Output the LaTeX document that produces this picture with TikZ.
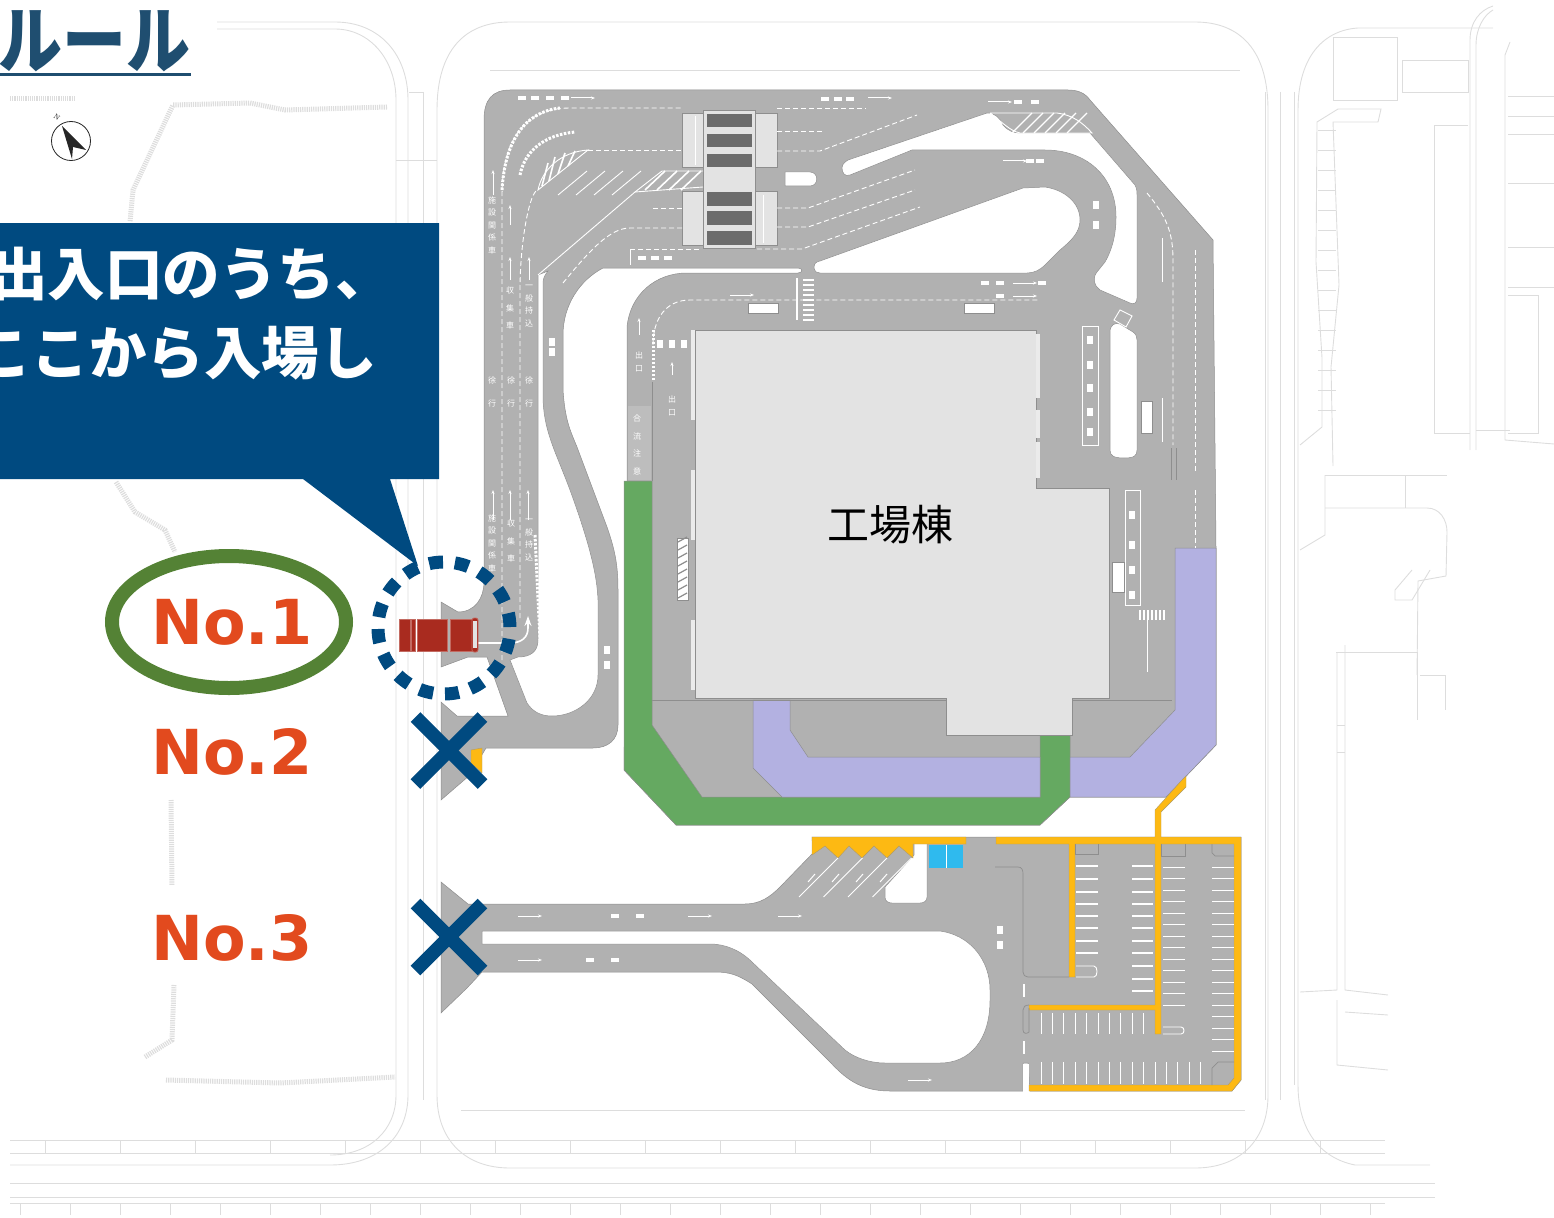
\documentclass[tikz,border=0pt]{standalone}
\usepackage{fontspec}
\usetikzlibrary{arrows.meta}
\newfontfamily\jpfont{Noto Sans CJK JP}
\newfontfamily\nofont{DejaVu Sans}
\definecolor{roadgray}{HTML}{B1B1B1}
\definecolor{edgegray}{HTML}{8E8E8E}
\definecolor{ghostgray}{HTML}{DDDDDD}
\definecolor{floorgray}{HTML}{E3E3E3}
\definecolor{bargray}{HTML}{6C6C6C}
\definecolor{laneGreen}{HTML}{65A961}
\definecolor{lanePurple}{HTML}{B3B1E1}
\definecolor{curbYellow}{HTML}{FDB913}
\definecolor{bayBlue}{HTML}{2FBAEE}
\definecolor{calloutBlue}{HTML}{004A80}
\definecolor{titleBlue}{HTML}{1F4E70}
\definecolor{labelOrange}{HTML}{E24A1E}
\definecolor{ovalGreen}{HTML}{548235}
\definecolor{truckRed}{HTML}{A92B1F}
\tikzset{
    ghost/.style={ghostgray, line width=0.9pt},
    ghostband/.style={ghostgray, line width=5pt, dash pattern=on 1.2pt off 1pt},
    road/.style={fill=roadgray, draw=edgegray, line width=0.5pt},
    island/.style={fill=white, draw=edgegray, line width=0.5pt},
    lane/.style={white, line width=0.9pt, dash pattern=on 5pt off 3pt},
    paint/.style={white, line width=0.9pt},
    curb/.style={fill=curbYellow, draw=edgegray!70!curbYellow, line width=0.4pt},
    notext/.style={labelOrange, font=\nofont\bfseries\fontsize{62}{62}\selectfont, inner sep=0pt},
    roadtext/.style={white, font=\jpfont\fontsize{8}{12.5}\selectfont, align=center, inner sep=0pt},
    crossmark/.style={calloutBlue, line width=13.5pt},
    calltext/.style={anchor=west, white, font=\jpfont\bfseries\fontsize{57.5}{57.5}\selectfont, inner sep=0pt},
}
\begin{document}
\begin{tikzpicture}[x=1pt, y=-1pt]
    \useasboundingbox (0,0) rectangle (1554,1217);

    % the faint outlines of the central site
    \draw[ghost] (437,110) .. controls (437,50) and (465,22) .. (510,22) -- (1195,22)
        .. controls (1240,22) and (1268,50) .. (1268,110) -- (1268,1095)
        .. controls (1268,1140) and (1240,1168) .. (1195,1168) -- (510,1168)
        .. controls (465,1168) and (437,1140) .. (437,1095) -- cycle;
    \draw[ghost] (490,70) -- (1240,70);
    \draw[ghost] (461,1110) -- (1245,1110);
    % the faint outlines of the left block
    \draw[ghost] (217,22) -- (335,22) .. controls (380,22) and (408,55) .. (408,100) -- (408,1095)
        .. controls (408,1135) and (380,1165) .. (330,1165) -- (10,1165);
    \draw[ghost] (217,29) -- (335,29) .. controls (370,29) and (396,60) .. (396,100) -- (396,1095)
        .. controls (396,1130) and (370,1155) .. (330,1155);
    \draw[ghost] (423,92) -- (423,1100);
    \draw[ghost] (396,160) -- (437,160);
    \draw[ghost] (409,92) -- (423,92);
    % the faint outlines of the right block
    \draw[ghost] (1280,92) -- (1280,1100);
    \draw[ghost] (1265,92) -- (1265,1100);
    \draw[ghost] (1294,92) -- (1294,1085);
    \draw[ghost] (1298,110) .. controls (1298,55) and (1325,30) .. (1358,28) -- (1493,28);
    \draw[ghost] (1298,110) -- (1298,1085) .. controls (1298,1130) and (1320,1158) .. (1355,1165) -- (1430,1165);
    \draw[ghost] (1470,450) -- (1470,40) .. controls (1470,22) and (1480,10) .. (1493,6);
    \draw[ghost] (1476,450) -- (1476,45) .. controls (1476,28) and (1484,15) .. (1493,10);
    \draw[ghost] (1333,37) rectangle (1397,100);
    \draw[ghost] (1402,60) rectangle (1468,92);
    \draw[ghost] (1468,125) -- (1434,125) -- (1434,433) -- (1470,433);
    \draw[ghost] (1476,430) -- (1510,430);
    \draw[ghost] (1510,42) -- (1505,55) -- (1505,440) -- (1554,444);
    \draw[ghost] (1508,96) -- (1554,96);
    \draw[ghost] (1508,116) -- (1554,116);
    \draw[ghost] (1508,134) -- (1554,134);
    \draw[ghost] (1508,183) -- (1554,183);
    \draw[ghost] (1508,247) -- (1554,247);
    \draw[ghost] (1508,287) -- (1554,287);
    \draw[ghost] (1508,295) -- (1538,295) -- (1538,433) -- (1508,433);
    \draw[ghost] (1338,109) -- (1381,109) -- (1378,122) -- (1333,122) -- (1339,285) -- (1331,367) -- (1333,466);
    \draw[ghost] (1338,109) -- (1317,122) -- (1316,262) -- (1322,358) -- (1322,427) -- (1300,445);
    \foreach \y in {130,150,...,420}
    \draw[ghost, line width=0.5pt] (1318,\y) -- (1336,\y);
    \draw[ghost] (1325,475) -- (1447,475);
    \draw[ghost] (1325,508) -- (1427,508) .. controls (1440,508) and (1447,520) .. (1447,532) -- (1446,576) -- (1418,581) -- (1417,675);
    \draw[ghost] (1325,475) -- (1325,535) -- (1300,550);
    \draw[ghost] (1405,475) -- (1405,508);
    \draw[ghost] (1412,570) -- (1395,590) -- (1395,600) -- (1412,600) -- (1430,570);
    \draw[ghost] (1336,652) -- (1417,652) -- (1417,720);
    \draw[ghost] (1345,645) -- (1345,990) -- (1388,995);
    \draw[ghost] (1337,652) -- (1337,990) -- (1300,992);
    \draw[ghost] (1420,675) -- (1445,675) -- (1445,710);
    \draw[ghost] (1337,725) -- (1345,725);
    \draw[ghost] (1337,752) -- (1345,752);
    \draw[ghost] (1337,1000) -- (1337,1065) -- (1388,1070);
    \draw[ghost] (1345,1012) -- (1388,1015);
    % the faint hatched shore lines on the left
    \draw[ghostband] (10,99) -- (76,99);
    \draw[ghostband] (387,107) -- (285,110) -- (250,103) -- (173,105) -- (133,190) -- (130,222);
    \draw[ghostband] (116,482) -- (135,512) -- (165,530) -- (175,552);
    \draw[ghostband] (171,800) -- (172,885);
    \draw[ghostband] (174,985) -- (172,1040) -- (145,1057);
    \draw[ghostband] (166,1080) -- (280,1083) -- (395,1077);
    % the faint road bands along the bottom
    \draw[ghost] (10,1140) -- (1385,1140);
    \draw[ghost] (10,1153) -- (1385,1153);
    \draw[ghost] (10,1183) -- (1435,1183);
    \draw[ghost] (10,1197) -- (1435,1197);
    \draw[ghost] (10,1203) -- (1385,1203);
    \foreach \x in {45,120,...,1380}
    \draw[ghost, line width=0.5pt] (\x,1140) -- (\x,1153);
    \foreach \x in {20,70,...,1380}
    \draw[ghost, line width=0.5pt] (\x,1203) -- (\x,1215);

    % the road block of the factory
    \draw[road] (484,120) .. controls (484,100) and (492,90) .. (510,90) -- (1068,90)
        .. controls (1078,90) and (1085,93) .. (1090,100) -- (1213,240) -- (1216,548) -- (1216,745)
        -- (1166,797) -- (1070,797) -- (1040,825) -- (676,825) -- (624,770) -- (627,481) -- (627,327)
        .. controls (630,295) and (655,273) .. (687,273) -- (798,273) .. controls (803,273) and (803,268) .. (798,268)
        -- (603,268) .. controls (580,280) and (563,305) .. (563,335) -- (563,390)
        .. controls (565,420) and (570,430) .. (577,447) -- (607,527) .. controls (615,550) and (618,565) .. (618,590)
        -- (618,725) .. controls (618,740) and (608,748) .. (593,748) -- (486,748) -- (470,775) -- (441,800)
        -- (441,702) -- (457,716) -- (508,716) -- (487,657) -- (468,657) -- (441,667) -- (441,602) -- (458,612)
        .. controls (475,612) and (484,598) .. (484,582) -- cycle;
    % the hollow between the strip and the curved road
    \draw[island] (538,275) -- (538,640) .. controls (538,652) and (530,657) .. (518,657) -- (510,660) -- (527,703)
        .. controls (533,712) and (541,716) .. (552,716) .. controls (575,716) and (598,700) .. (598,675)
        -- (598,600) .. controls (597,575) and (590,545) .. (570,490) .. controls (555,450) and (543,430) .. (543,395)
        -- (543,283) .. controls (543,278) and (545,275) .. (548,271) -- cycle;
    % the islands in the north part
    \draw[island] (814,268) .. controls (814,263) and (816,262) .. (820,261) -- (1023,188) -- (1045,187)
        .. controls (1065,190) and (1080,203) .. (1080,220) .. controls (1080,232) and (1072,240) .. (1060,250)
        -- (1045,265) .. controls (1040,270) and (1034,273) .. (1027,273) -- (820,273) .. controls (817,273) and (815,272) .. (814,268);
    \draw[island] (842,168) .. controls (842,164) and (845,162) .. (848,160) -- (987,113)
        .. controls (995,113) and (1000,118) .. (1003,125) .. controls (1008,131) and (1014,133) .. (1020,133)
        -- (1090,133) -- (1135,185) .. controls (1137,189) and (1137,192) .. (1137,196) -- (1137,298)
        .. controls (1137,303) and (1134,305) .. (1130,303) -- (1100,290) .. controls (1094,286) and (1092,278) .. (1097,272)
        -- (1105,262) .. controls (1112,250) and (1116,235) .. (1116,217) .. controls (1116,175) and (1085,150) .. (1045,150)
        -- (912,150) -- (850,175) .. controls (845,177) and (842,173) .. (842,168);
    \draw[island] (785,172) -- (810,172) .. controls (819,172) and (819,186) .. (810,186) -- (785,186) -- cycle;
    \draw[island] (1110,332) .. controls (1110,325) and (1115,322) .. (1120,324) -- (1133,332)
        .. controls (1136,334) and (1137,337) .. (1137,340) -- (1137,450) .. controls (1137,456) and (1134,458) .. (1124,458)
        .. controls (1114,458) and (1110,456) .. (1110,450) -- cycle;

    % the coloured lanes
    \draw[fill=laneGreen, draw=edgegray, line width=0.5pt] (624,481) -- (652,481) -- (652,725) -- (702,797) -- (1040,797)
        -- (1040,735) -- (1070,735) -- (1070,797) -- (1040,825) -- (676,825) -- (624,770) -- cycle;
    \draw[fill=lanePurple, draw=edgegray, line width=0.5pt] (753,700) -- (790,700) -- (790,730) -- (808,757) -- (1040,757)
        -- (1040,797) -- (782,797) -- (753,768) -- cycle;
    \draw[fill=lanePurple, draw=edgegray, line width=0.5pt] (1070,757) -- (1130,757) -- (1175,710) -- (1175,548) -- (1216,548)
        -- (1216,745) -- (1166,797) -- (1070,797) -- cycle;
    \draw[edgegray, line width=0.6pt] (652,382) -- (652,481);
    \draw[edgegray, line width=0.6pt] (652,700) -- (1172,700);
    \fill[roadgray!85!white] (628,406) rectangle (651,480);

    % the factory building
    \draw[fill=floorgray, draw=edgegray, line width=0.6pt] (695,330) -- (1036,330) -- (1036,488) -- (1109,488) -- (1109,698)
        -- (1072,698) -- (1072,735) -- (946,735) -- (946,698) -- (695,698) -- cycle;
    \foreach \a/\b in {330/420, 470/540, 620/690}
    \fill[floorgray!70!white] (691,\a) rectangle (695,\b);
    \foreach \a/\b in {334/398, 410/438, 442/478}
    \fill[floorgray!70!white] (1036,\a) rectangle (1040,\b);
    \node[font=\jpfont\fontsize{42}{42}\selectfont, inner sep=0pt] (factory) at (890,525) {工場棟};

    % the gate building in the north
    \foreach \a in {113,191}
    {
        \draw[fill=floorgray, draw=edgegray, line width=0.5pt] (682,\a) rectangle (703,\a+54.5);
        \draw[fill=floorgray, draw=edgegray, line width=0.5pt] (755,\a) rectangle (777,\a+54.5);
    }
    \draw[fill=floorgray, draw=edgegray, line width=0.6pt] (703,110) rectangle (755,248);
    \foreach \a in {114,134,154,192,211,231}
    \fill[bargray] (707,\a) rectangle (752,\a+13.5);
    \draw[paint] (695,116) -- (695,165);
    \draw[paint] (763,195) -- (763,243);

    % the road south of the factory, with the two gates on the left
    \draw[road] (441,882) -- (468,904) -- (745,904) .. controls (760,904) and (770,897) .. (780,887) -- (813,853) -- (812,837)
        -- (1241,837) -- (1241,1080) -- (1232,1091) -- (1030,1091) -- (1028,1063) -- (1023,1063) -- (1023,1091) -- (890,1091)
        .. controls (860,1091) and (845,1078) .. (830,1062) -- (752,984) .. controls (738,975) and (730,972) .. (715,972)
        -- (482,972) -- (467,988) -- (441,1013) -- cycle;
    \draw[island] (482,931) -- (700,931) -- (940,931) .. controls (970,935) and (990,960) .. (990,990) -- (990,1000)
        .. controls (990,1040) and (970,1063) .. (940,1063) -- (885,1063) .. controls (870,1063) and (855,1058) .. (845,1050)
        -- (752,962) .. controls (740,950) and (725,944) .. (710,944) -- (482,944) -- cycle;
    \draw[island] (914,855) -- (914,843) -- (927,843) -- (927,897) .. controls (927,901) and (924,903) .. (920,903)
        -- (892,903) .. controls (888,903) and (885,901) .. (885,897) -- (885,887) -- cycle;
    \fill[white] (1023,1064) rectangle (1029,1092);

    % the yellow curbs
    \draw[curb] (812,837) -- (812,855) -- (825,846) -- (838,858) -- (849,846) -- (862,858) -- (874,846) -- (887,858) -- (899,846)
        -- (913,858) -- (913,844) -- (966,844) -- (966,837) -- cycle;
    \draw[curb] (996,837) -- (1155,837) -- (1155,810) -- (1182,780) -- (1186,776) -- (1186,787) -- (1161,812) -- (1161,837) -- (1241,837)
        -- (1241,1080) -- (1232,1091) -- (1029,1091) -- (1029,1085) -- (1228,1085) -- (1234,1078) -- (1234,844) -- (1161,844) -- (1161,1034)
        -- (1155,1034) -- (1155,1010) -- (1029,1010) -- (1029,1005) -- (1155,1005) -- (1155,844) -- (1075,844) -- (1075,977) -- (1069,977)
        -- (1069,844) -- (996,844) -- cycle;
    \draw[curb] (471,750) -- (482,748) -- (482,773) -- (471,763) -- cycle;
    \fill[bayBlue] (929,845) rectangle (963,868);
    \draw[white, line width=0.5pt] (946,845) -- (946,868);

    % the pavement lines of the south part
    \draw[edgegray, line width=0.7pt] (995,867) -- (1018,867) .. controls (1022,867) and (1023,870) .. (1023,874) -- (1023,972)
        .. controls (1023,975) and (1025,977) .. (1028,977) -- (1069,977);
    \draw[edgegray, line width=0.7pt] (1029,1005) .. controls (1025,1005) and (1023,1007) .. (1023,1010) -- (1023,1030) .. controls (1023,1034) and (1027,1034) .. (1029,1032) -- (1029,1008);
    \draw[edgegray, line width=0.7pt] (1075,844) -- (1075,854) -- (1098,854) -- (1098,844);
    \draw[edgegray, line width=0.7pt] (1161,844) -- (1161,856) -- (1185,856) -- (1185,844);
    \draw[edgegray, line width=0.7pt] (1234,856) -- (1215,856) -- (1212,853) -- (1212,844);
    \draw[edgegray, line width=0.7pt] (1234,1062) -- (1218,1062) -- (1212,1068) -- (1212,1085);

    % the parking lines
    \foreach \y in {866,879,892,904,916,928,941,953}
    \draw[white, line width=1.6pt] (1076,\y) -- (1098,\y);
    \foreach \y in {866,879,892,904,916,928,941,953,966,979,991}
    \draw[white, line width=1.6pt] (1132,\y) -- (1153,\y);
    \foreach \y in {867,878.5,...,1015}
    \draw[paint] (1163,\y) -- (1185,\y);
    \foreach \y in {867,878.5,...,1052}
    \draw[paint] (1212,\y) -- (1234,\y);
    \foreach \x in {1041,1052.4,...,1153}
    \draw[paint] (\x,1013) -- (\x,1034);
    \foreach \x in {1041,1052.4,...,1202}
    \draw[paint] (\x,1062) -- (\x,1084);
    \draw[paint] (1076,966) -- (1094,966) .. controls (1098,966) and (1098,977) .. (1094,977) -- (1076,977);
    \draw[paint] (1163,1027) -- (1181,1027) .. controls (1185,1027) and (1185,1034) .. (1181,1034) -- (1163,1034);
    \foreach \x in {0,1,2,3}
    \draw[paint] (799+\x*24.5,897) -- (838+\x*24.5,858);

    % the stop lines of the south part
    \draw[white, line width=1.6pt] (1024,984) -- (1024,997);
    \draw[white, line width=1.6pt] (1024,1041) -- (1024,1054);

    % the lane lines of the left strip
    \draw[lane] (502,660) -- (502,195) .. controls (502,140) and (525,108) .. (570,108) -- (682,108);
    \draw[lane] (520,618) -- (520,290) .. controls (520,240) and (530,190) .. (538,190);
    \draw[lane] (588,150) -- (682,150);
    \draw[lane] (777,108) -- (866,108);
    \draw[lane] (777,131) -- (822,131);
    \draw[lane] (777,151) -- (820,151) -- (917,115);
    \draw[lane] (653,208) -- (682,208);
    \draw[lane] (777,208) -- (808,208) -- (915,170);
    \draw[lane] (777,227) -- (808,227) -- (915,190);
    \draw[lane] (563,283) .. controls (590,250) and (610,228) .. (630,228) -- (682,228);
    \draw[lane] (630,249) -- (700,249);
    \draw[lane] (757,249) -- (802,249) -- (920,207);
    \draw[lane] (653,345) .. controls (653,320) and (665,300) .. (690,300) -- (1040,300);
    \draw[lane] (1147,193) .. controls (1165,215) and (1173,230) .. (1173,260) -- (1173,445);
    \draw[lane] (1195,250) -- (1195,473);
    \draw[lane] (1195,490) -- (1195,548);
    \draw[paint] (538,275) -- (635,192);
    \draw[edgegray, line width=0.7pt] (1171,448) -- (1171,480);
    \draw[edgegray, line width=0.7pt] (1176,448) -- (1176,480);

    % the painted chevrons and hatchings
    \draw[white, line width=3pt, dash pattern=on 2.5pt off 1.5pt] (502,190) .. controls (505,140) and (525,112) .. (560,108);
    \draw[white, line width=3pt, dash pattern=on 2.5pt off 1.5pt] (520,175) .. controls (525,150) and (545,135) .. (575,132);
    \draw[white, line width=3pt, dash pattern=on 2.5pt off 1.5pt] (653,380) -- (653,330);
    \draw[white, line width=3pt, dash pattern=on 2.5pt off 1.5pt] (535,535) -- (540,640);
    \draw[paint] (538,190) .. controls (542,170) and (560,152) .. (588,150) -- cycle;
    \foreach \a/\b/\c/\d in {548/163/542/186, 555/157/549/181, 565/153/558/174, 575/151/568/166}
    \draw[white, line width=1.6pt] (\a,\b) -- (\c,\d);
    \foreach \x in {0,1,2,3}
    \draw[paint] (558+\x*18,195) -- (587+\x*18,171);
    \draw[paint] (635,192) -- (662,171) -- (703,171);
    \draw[paint] (635,192) -- (703,187);
    \foreach \x in {0,1,2,3}
    \draw[white, line width=1.6pt] (645+\x*12,190) -- (665+\x*12,171);
    \draw[paint] (990,113) -- (1057,113) .. controls (1072,115) and (1082,122) .. (1092,133) -- (1020,133) .. controls (1010,131) and (1002,122) .. (990,113);
    \foreach \x in {0,1,...,5}
    \draw[white, line width=1.3pt] (1012+\x*11,133) -- (1032+\x*11,113);
    \draw[fill=white, draw=edgegray, line width=0.4pt] (677,538) rectangle (688,600);
    \foreach \y in {542,550,...,598}
    \draw[edgegray, line width=1.2pt] (678,\y) -- (687,\y-5);
    \foreach \y in {280,285,...,320}
    \draw[white, line width=1.3pt] (803,\y) -- (814,\y);
    \draw[white, line width=1.3pt] (797,278) -- (797,320);
    \foreach \x in {1140,1144,...,1166}
    \draw[white, line width=1.5pt] (\x,610) -- (\x,620);
    \draw[paint] (1082,326) rectangle (1098,445);
    \draw[paint] (1125,490) rectangle (1140,605);
    \draw[white, line width=1.4pt] (630.5,250) -- (630.5,265);
    \draw[paint] (1120,310) -- (1132,316) -- (1126,327) -- (1114,320) -- cycle;
    \foreach \px/\py in {748/303, 964/303}
    \draw[fill=white, draw=edgegray, line width=0.3pt] (\px,\py) rectangle (\px+30,\py+10);
    \draw[fill=white, draw=edgegray, line width=0.3pt] (1141,401) rectangle (1152,433);
    \draw[fill=white, draw=edgegray, line width=0.3pt] (1112,562) rectangle (1124,592);

    % the small road words and arrows
    \node[roadtext] (w1) at (492,392) {徐\\[10pt]行};
    \node[roadtext] (w2) at (511,392) {徐\\[10pt]行};
    \node[roadtext] (w3) at (529,392) {徐\\[10pt]行};
    \node[roadtext] (w4) at (492,543) {施\\設\\関\\係\\車};
    \node[roadtext] (w5) at (511,541) {収\\[5pt]集\\[5pt]車};
    \node[roadtext] (w6) at (529,540) {一\\般\\持\\込};
    \node[roadtext] (w7) at (492,225) {施\\設\\関\\係\\車};
    \node[roadtext] (w8) at (510,308) {収\\[5pt]集\\[5pt]車};
    \node[roadtext] (w9) at (529,306) {一\\般\\持\\込};
    \node[roadtext] (w10) at (639,362) {出\\口};
    \node[roadtext] (w11) at (672,406) {出\\口};
    \node[roadtext] (w12) at (637,445) {合\\[5pt]流\\[5pt]注\\[5pt]意};
    \foreach \x/\y/\t in {493/520/490, 510/520/490, 528/520/490, 510/280/257, 529/280/257, 493/195/170, 510/225/205, 639/335/318, 672/375/362}
    \draw[white, line width=1pt, -{Stealth[length=4pt,width=3pt]}] (\x,\y) -- (\x,\t);
    \foreach \x/\y in {583/98, 880/98, 1000/102, 742/295, 1025/283, 1025/296, 1015/161, 530/916, 700/916, 790/916, 530/960, 920/1080}
    \draw[white, line width=1pt, -{Stealth[length=4pt,width=3pt]}] (\x-12,\y) -- (\x+12,\y);
    \foreach \x/\y in {522/98, 535/98, 550/98, 565/98, 825/99, 838/99, 850/99, 1018/102, 1035/102, 642/258, 655/258, 668/258, 1042/283, 1000/283, 985/283, 1000/296, 1030/161, 1040/161, 615/916, 640/916, 590/960, 615/960}
    \fill[white] (\x-4,\y-2) rectangle (\x+4,\y+2);
    \foreach \x/\y in {552/342, 552/352, 607/650, 607/665, 660/344, 672/344, 684/344, 1096/205, 1096/225, 1090/340, 1090/365, 1090/388, 1090/412, 1090/432, 1132/515, 1132/545, 1132/570, 1132/595, 1000/930, 1000/945}
    \fill[white] (\x-3,\y-4) rectangle (\x+3,\y+4);
    \foreach \x/\y in {1162/260, 1162/420, 1147/640, 1147/650}
    \draw[white, line width=1pt] (\x,\y-22) -- (\x,\y+22);
    \foreach \x in {0,1,2,3}
    \draw[white, line width=1pt] (808+\x*24,882) -- (815+\x*24,874);

    % the truck and its way in
    \draw[white, line width=1.6pt, -{Stealth[length=10pt,width=7pt]}] (478,643) -- (510,643) .. controls (522,643) and (528,637) .. (528,628) -- (528,616);
    \foreach \a/\b in {399/410, 411/415, 417/447, 450/472}
    \draw[fill=truckRed, draw=truckRed!70!white, line width=0.6pt] (\a,619) rectangle (\b,651);
    \draw[fill=truckRed, draw=truckRed!70!white, line width=0.7pt, rounded corners=2pt] (472,618) rectangle (478,652);
    \fill[floorgray] (473,621) rectangle (477,648);

    % the compass and the scale
    \draw[fill=white, draw=black!85, line width=0.8pt] (71,141) circle [radius=19.5];
    \fill[black!85] (62,126) -- (86,150) -- (73,147) -- (72,159) -- cycle;
    \node[rotate=-35, font=\fontsize{7}{7}\selectfont, inner sep=0pt] (north) at (57,117) {N};

    % the title
    \node[anchor=south east, yscale=1.15, transform shape, text=titleBlue, font=\jpfont\bfseries\fontsize{64}{64}\selectfont, inner sep=0pt] (title) at (191,72) {ルール};
    \draw[titleBlue, line width=3.5pt] (0,74.5) -- (191,74.5);

    % the callout
    \fill[calloutBlue] (0,223) -- (439,223) -- (439,479) -- (390,479) -- (418,566) -- (303,479) -- (0,479) -- cycle;
    \node[calltext] (line1) at (-10,274) {出入口のうち、};
    \node[calltext] (line2) at (-26,353) {ここから入場し};

    % the gate labels
    \node[notext] (no1) at (232,622) {No.1};
    \node[notext] (no2) at (232,752) {No.2};
    \node[notext] (no3) at (232,938) {No.3};
    \draw[ovalGreen, line width=14pt] (229,622) circle [x radius=117, y radius=66];
    \draw[calloutBlue, line width=13pt, dash pattern=on 14pt off 11.92pt, dash phase=15pt] (444,628) circle [radius=66];
    \draw[crossmark] (415.5,717) -- (482.5,784);
    \draw[crossmark] (482.5,717) -- (415.5,784);
    \draw[crossmark] (415.5,903.5) -- (482.5,970.5);
    \draw[crossmark] (482.5,903.5) -- (415.5,970.5);
\end{tikzpicture}
\end{document}
